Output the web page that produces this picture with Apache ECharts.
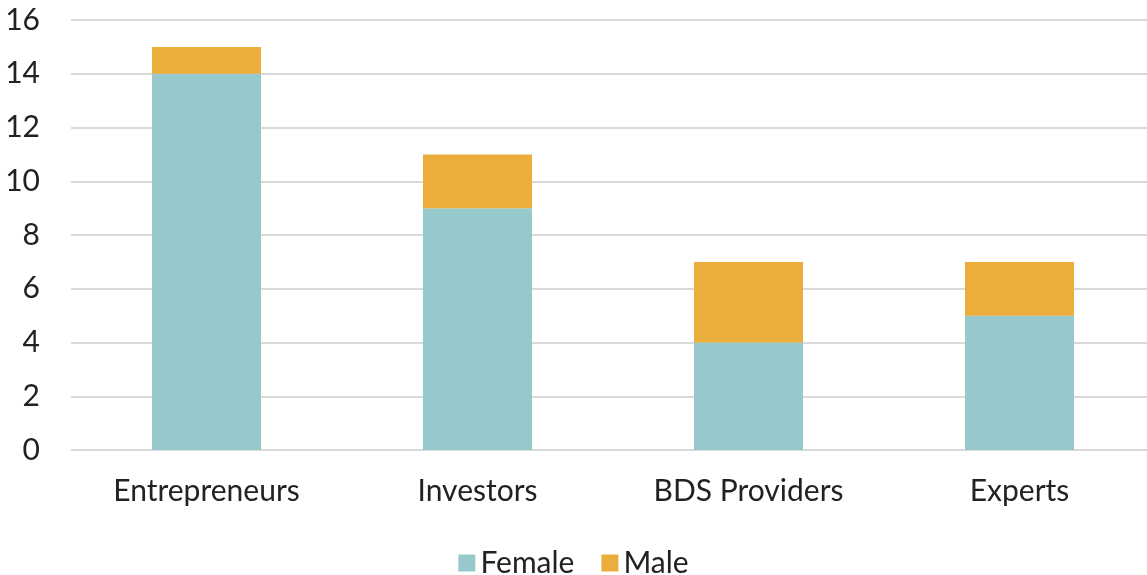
<!DOCTYPE html>
<html><head><meta charset="utf-8">
<script src="https://cdn.jsdelivr.net/npm/echarts@6/dist/echarts.min.js"></script>
<style>html,body{margin:0;padding:0;background:#fff}#c{width:1147px;height:575px}</style>
</head><body><div id="c"></div>
<script>
const categories = ["Entrepreneurs", "Investors", "BDS Providers", "Experts"];
const female = [14, 9, 4, 5];
const male = [1, 2, 3, 2];
const yTicks = [0, 2, 4, 6, 8, 10, 12, 14, 16];

const chart = echarts.init(document.getElementById('c'));
const font = 'Lato, "Open Sans", sans-serif';
chart.setOption({
  animation: false,
  grid: {left: 71, width: 1084, top: 20, height: 430, containLabel: false, outerBoundsMode: 'none'},
  legend: {
    data: ['Female', 'Male'], top: 543, left: 'center',
    icon: 'rect', itemWidth: 17, itemHeight: 17, itemGap: 27,
    textStyle: {fontFamily: font, fontSize: 30, color: '#222'}
  },
  xAxis: {
    type: 'category', data: categories,
    axisLine: {show: false}, axisTick: {show: false},
    axisLabel: {fontFamily: font, fontSize: 30, color: '#222', margin: 26}
  },
  yAxis: {
    type: 'value', min: yTicks[0], max: yTicks[yTicks.length-1], interval: 2,
    axisLine: {show: false}, axisTick: {show: false},
    axisLabel: {fontFamily: font, fontSize: 30, color: '#222', margin: 31},
    splitLine: {lineStyle: {color: '#d9d9d9', width: 2}}
  },
  series: [
    {name: 'Female', type: 'bar', stack: 's', data: female, barWidth: 109, itemStyle: {color: '#97C8CC'}},
    {name: 'Male', type: 'bar', stack: 's', data: male, barWidth: 109, itemStyle: {color: '#EBAD3C'}}
  ]
});
</script></body></html>
